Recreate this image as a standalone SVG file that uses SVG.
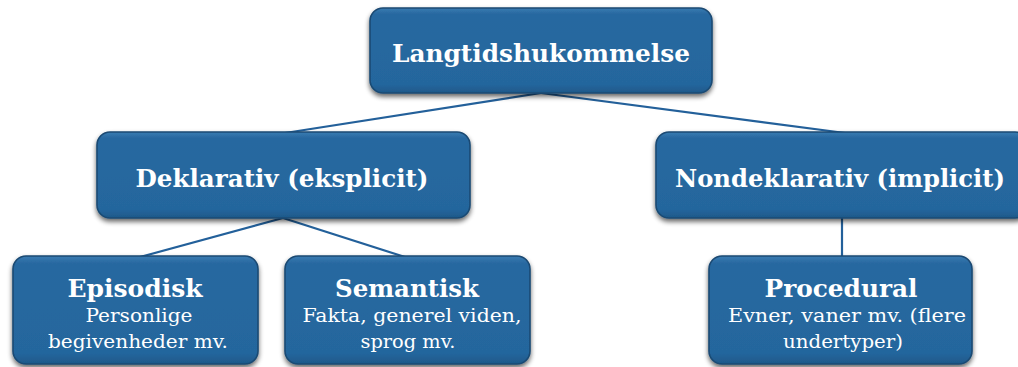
<svg xmlns="http://www.w3.org/2000/svg" width="1018" height="367" viewBox="0 0 1018 367">
<style>
.box{fill:url(#g);stroke:#1a4a73;stroke-width:1.6;filter:url(#sh)}
.t{font-family:"DejaVu Serif","Liberation Serif",serif;fill:#fff;text-anchor:middle}
.h{font-weight:bold;font-size:24px}
.s{font-size:18.5px}
.c{stroke:#23609a;stroke-width:2.2;fill:none}
</style>
<defs>
<linearGradient id="g" x1="0" y1="0" x2="0" y2="1">
<stop offset="0" stop-color="#3a7cb2"/>
<stop offset="0.07" stop-color="#2868a0"/>
<stop offset="0.9" stop-color="#24669d"/>
<stop offset="1" stop-color="#1e5889"/>
</linearGradient>
<filter id="sh" x="-10%" y="-10%" width="120%" height="135%">
<feGaussianBlur in="SourceAlpha" stdDeviation="2.5"/>
<feOffset dx="0" dy="3" result="b"/>
<feComponentTransfer><feFuncA type="linear" slope="0.6"/></feComponentTransfer>
<feMerge><feMergeNode/><feMergeNode in="SourceGraphic"/></feMerge>
</filter>
</defs>
<rect width="1018" height="367" fill="#fff"/>
<g id="connectors">
<line class="c" x1="541" y1="93" x2="285" y2="133"/>
<line class="c" x1="541" y1="93" x2="845" y2="133"/>
<line class="c" x1="283" y1="218" x2="140" y2="257"/>
<line class="c" x1="283" y1="218" x2="405" y2="257"/>
<line class="c" x1="842" y1="218" x2="842" y2="257"/>
</g>
<g id="n-lang">
<rect class="box" x="370" y="8" width="342" height="85" rx="13"/>
<text class="t h" x="541" y="62" textLength="298" lengthAdjust="spacingAndGlyphs">Langtidshukommelse</text>
</g>
<g id="n-dekl">
<rect class="box" x="97" y="132" width="373" height="86" rx="13"/>
<text class="t h" x="282" y="187" textLength="293" lengthAdjust="spacingAndGlyphs">Deklarativ (eksplicit)</text>
</g>
<g id="n-nondekl">
<rect class="box" x="656" y="132" width="372" height="86" rx="13"/>
<text class="t h" x="840" y="187" textLength="330" lengthAdjust="spacingAndGlyphs">Nondeklarativ (implicit)</text>
</g>
<g id="n-epi">
<rect class="box" x="13" y="256" width="245" height="108" rx="13"/>
<text class="t h" x="135" y="297" textLength="135" lengthAdjust="spacingAndGlyphs">Episodisk</text>
<text class="t s" x="139" y="322" textLength="107" lengthAdjust="spacingAndGlyphs">Personlige</text>
<text class="t s" x="138" y="348" textLength="180" lengthAdjust="spacingAndGlyphs">begivenheder mv.</text>
</g>
<g id="n-sem">
<rect class="box" x="285" y="256" width="245" height="108" rx="13"/>
<text class="t h" x="407" y="297" textLength="144" lengthAdjust="spacingAndGlyphs">Semantisk</text>
<text class="t s" x="412" y="322" textLength="219" lengthAdjust="spacingAndGlyphs">Fakta, generel viden,</text>
<text class="t s" x="408" y="348" textLength="95" lengthAdjust="spacingAndGlyphs">sprog mv.</text>
</g>
<g id="n-proc">
<rect class="box" x="709" y="256" width="263" height="108" rx="13"/>
<text class="t h" x="841" y="297" textLength="153" lengthAdjust="spacingAndGlyphs">Procedural</text>
<text class="t s" x="847" y="322" textLength="238" lengthAdjust="spacingAndGlyphs">Evner, vaner mv. (flere</text>
<text class="t s" x="843" y="348" textLength="120" lengthAdjust="spacingAndGlyphs">undertyper)</text>
</g>
</svg>
